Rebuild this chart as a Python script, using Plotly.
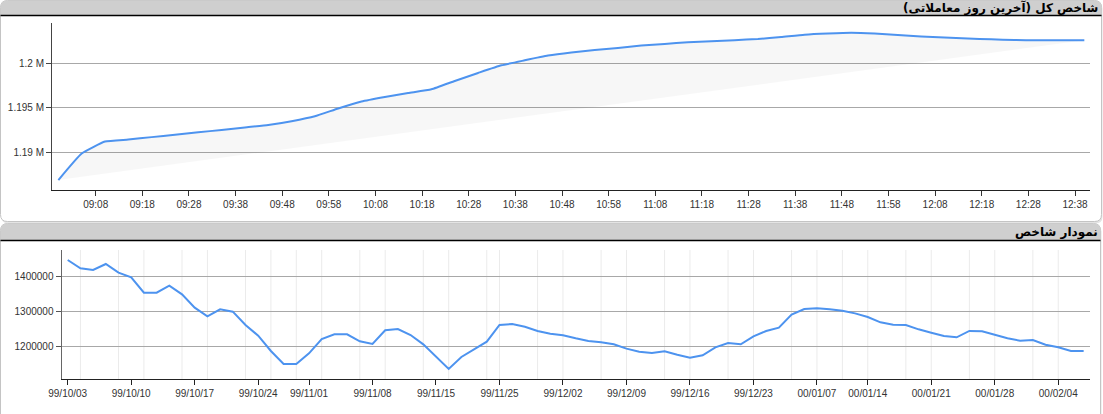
import plotly.graph_objects as go

# ---------------- data ----------------
intraday_times = [
    "09:00", "09:05", "09:10", "09:15", "09:20", "09:25", "09:30", "09:35", "09:40",
    "09:45", "09:50", "09:55", "10:00", "10:05", "10:10", "10:15", "10:20", "10:25",
    "10:30", "10:35", "10:40", "10:45", "10:50", "10:55", "11:00", "11:05", "11:10",
    "11:15", "11:20", "11:25", "11:30", "11:35", "11:40", "11:45", "11:50", "11:55",
    "12:00", "12:05", "12:10", "12:15", "12:20", "12:25", "12:30", "12:35", "12:40",
]
intraday_values = [
    1186850, 1189830, 1191170, 1191400, 1191670, 1191940, 1192210, 1192480, 1192760,
    1193030, 1193460, 1194010, 1194890, 1195670, 1196180, 1196630, 1197040, 1197980,
    1198880, 1199740, 1200300, 1200830, 1201180, 1201460, 1201690, 1201970, 1202130,
    1202340, 1202450, 1202560, 1202700, 1202920, 1203180, 1203310, 1203390, 1203310,
    1203150, 1202980, 1202870, 1202750, 1202660, 1202580, 1202550, 1202550, 1202550,
]
intraday_tick_labels = ["1.19 M", "1.195 M", "1.2 M"]
intraday_tick_values = [1190000, 1195000, 1200000]

daily_dates = [
    "99/10/03", "99/10/06", "99/10/07", "99/10/08", "99/10/09", "99/10/10",
    "99/10/13", "99/10/14", "99/10/15", "99/10/16", "99/10/17",
    "99/10/20", "99/10/21", "99/10/22", "99/10/23", "99/10/24",
    "99/10/27", "99/10/28", "99/10/30", "99/11/01",
    "99/11/04", "99/11/05", "99/11/06", "99/11/07", "99/11/08",
    "99/11/11", "99/11/12", "99/11/13", "99/11/14", "99/11/15",
    "99/11/18", "99/11/19", "99/11/20", "99/11/21",
    "99/11/25", "99/11/26", "99/11/27", "99/11/28", "99/11/29",
    "99/12/02", "99/12/03", "99/12/04", "99/12/05", "99/12/06",
    "99/12/09", "99/12/10", "99/12/11", "99/12/12", "99/12/13",
    "99/12/16", "99/12/17", "99/12/18", "99/12/19", "99/12/20",
    "99/12/23", "99/12/24", "99/12/25", "99/12/26", "99/12/27",
    "00/01/07", "00/01/08", "00/01/10", "00/01/11",
    "00/01/14", "00/01/15", "00/01/16", "00/01/17", "00/01/18",
    "00/01/21", "00/01/22", "00/01/23", "00/01/24", "00/01/25",
    "00/01/28", "00/01/29", "00/01/30", "00/01/31", "00/02/01",
    "00/02/04", "00/02/05", "00/02/06",
]
daily_values = [
    1445700, 1421900, 1417100, 1434300, 1409500, 1396200,
    1352400, 1352400, 1372400, 1347600, 1309500,
    1284800, 1304800, 1298100, 1260000, 1229500,
    1185700, 1148600, 1148600, 1179000,
    1220000, 1233300, 1233300, 1213300, 1205700,
    1244800, 1248600, 1231400, 1204800, 1169500,
    1134300, 1168600, 1191400, 1212400,
    1260000, 1262900, 1255200, 1242900, 1235200,
    1230500, 1221900, 1214300, 1210500, 1204800,
    1192400, 1183800, 1180000, 1184800, 1175200,
    1166700, 1173300, 1196200, 1208600, 1204800,
    1227600, 1242900, 1252400, 1289500, 1305700,
    1307600, 1304800, 1301000, 1293300,
    1282900, 1267600, 1261000, 1260000, 1247600,
    1238100, 1228600, 1224800, 1242900, 1241900,
    1231400, 1221900, 1215200, 1217100, 1203800,
    1196200, 1185700, 1185700,
]
daily_tick_dates = [
    "99/10/03", "99/10/10", "99/10/17", "99/10/24", "99/11/01", "99/11/08", "99/11/15",
    "99/11/25", "99/12/02", "99/12/09", "99/12/16", "99/12/23", "00/01/07", "00/01/14",
    "00/01/21", "00/01/28", "00/02/04",
]
daily_grid_dates = [
    "99/10/06", "99/10/09", "99/10/13", "99/10/16", "99/10/20", "99/10/23", "99/10/27",
    "99/10/30", "99/11/04", "99/11/07", "99/11/11", "99/11/14", "99/11/18", "99/11/21",
    "99/11/25", "99/11/28", "99/12/02", "99/12/05", "99/12/09", "99/12/12", "99/12/16",
    "99/12/19", "99/12/23", "99/12/26", "00/01/07", "00/01/10", "00/01/14", "00/01/17",
    "00/01/21", "00/01/24", "00/01/28", "00/01/31", "00/02/04",
]
daily_tick_values = [1200000, 1300000, 1400000]

title_top = "شاخص کل (آخرین روز معاملاتی)"
title_bottom = "نمودار شاخص"

# ---------------- styling helpers ----------------
W, H = 1103, 414
BLUE = "#4d93ef"
DAY = "2021-01-01 "


def px(x):
    return x / W


def py(y):
    return 1 - y / H


def rrect(x0, y0, x1, y1, r, top=True, bottom=True):
    rt = r if top else 0
    rb = r if bottom else 0
    p = []
    p.append(f"M{px(x0 + rt)},{py(y0)}")
    p.append(f"L{px(x1 - rt)},{py(y0)}")
    if rt:
        p.append(f"Q{px(x1)},{py(y0)} {px(x1)},{py(y0 + rt)}")
    p.append(f"L{px(x1)},{py(y1 - rb)}")
    if rb:
        p.append(f"Q{px(x1)},{py(y1)} {px(x1 - rb)},{py(y1)}")
    p.append(f"L{px(x0 + rb)},{py(y1)}")
    if rb:
        p.append(f"Q{px(x0)},{py(y1)} {px(x0)},{py(y1 - rb)}")
    p.append(f"L{px(x0)},{py(y0 + rt)}")
    if rt:
        p.append(f"Q{px(x0)},{py(y0)} {px(x0 + rt)},{py(y0)}")
    p.append("Z")
    return " ".join(p)


shapes = []
# panel 1
shapes.append(dict(type="path", path=rrect(1.5, 1.5, 1102.5, 223.5, 7), xref="paper", yref="paper",
                   fillcolor="#e4e4e4", line=dict(width=0), layer="below"))
shapes.append(dict(type="path", path=rrect(0.5, 0.5, 1101.5, 221.5, 7), xref="paper", yref="paper",
                   fillcolor="white", line=dict(color="#c4c4c4", width=1), layer="below"))
shapes.append(dict(type="path", path=rrect(0.5, 0.5, 1101.5, 15, 7, bottom=False), xref="paper", yref="paper",
                   fillcolor="#cfcfcf", line=dict(width=0), layer="below"))
shapes.append(dict(type="line", x0=px(0.5), x1=px(1101.5), y0=py(15.5), y1=py(15.5), xref="paper", yref="paper",
                   line=dict(color="black", width=1.5), layer="below"))
# panel 2
shapes.append(dict(type="path", path=rrect(1.5, 224.5, 1101.5, 440, 7), xref="paper", yref="paper",
                   fillcolor="#e4e4e4", line=dict(width=0), layer="below"))
shapes.append(dict(type="path", path=rrect(0.5, 223.5, 1100.5, 440, 7), xref="paper", yref="paper",
                   fillcolor="white", line=dict(color="#c4c4c4", width=1), layer="below"))
shapes.append(dict(type="path", path=rrect(0.5, 223.5, 1100.5, 240, 7, bottom=False), xref="paper", yref="paper",
                   fillcolor="#cfcfcf", line=dict(width=0), layer="below"))
shapes.append(dict(type="line", x0=px(0.5), x1=px(1100.5), y0=py(240.5), y1=py(240.5), xref="paper", yref="paper",
                   line=dict(color="black", width=1.5), layer="below"))
# light vertical gridlines in daily chart
for d in daily_grid_dates:
    shapes.append(dict(type="line", x0=d, x1=d, xref="x2", y0=0, y1=1, yref="y2 domain",
                       line=dict(color="#ebebeb", width=1), layer="below"))

fig = go.Figure()
fig.add_trace(go.Scatter(
    x=[DAY + t for t in intraday_times], y=intraday_values, mode="lines",
    line=dict(color=BLUE, width=2, shape="spline", smoothing=0.4),
    fill="toself", fillcolor="rgba(0,0,0,0.03)",
    xaxis="x", yaxis="y", hoverinfo="skip", showlegend=False,
))
fig.add_trace(go.Scatter(
    x=daily_dates, y=daily_values, mode="lines",
    line=dict(color=BLUE, width=2),
    xaxis="x2", yaxis="y2", hoverinfo="skip", showlegend=False,
))

tick_font = dict(family="Liberation Sans, Arial, sans-serif", size=10, color="#333")
title_font = dict(family="DejaVu Sans", size=12, color="black", weight="bold")

fig.update_layout(
    width=W, height=H,
    margin=dict(l=0, r=0, t=0, b=0),
    paper_bgcolor="white", plot_bgcolor="rgba(0,0,0,0)",
    hovermode=False, showlegend=False,
    shapes=shapes,
    xaxis=dict(
        domain=[px(52), px(1090)], anchor="y", type="date",
        range=[DAY + "08:58:38", DAY + "12:41:13"],
        tick0=DAY + "09:08", dtick=600000, tickformat="%H:%M",
        ticks="outside", ticklen=5, tickcolor="#333", tickfont=tick_font,
        showline=True, linecolor="#222", linewidth=1,
        showgrid=False, zeroline=False, automargin=False, fixedrange=True,
    ),
    yaxis=dict(
        domain=[py(190), py(23)], anchor="x",
        range=[1185730, 1204494],
        tickmode="array", tickvals=intraday_tick_values, ticktext=intraday_tick_labels,
        ticks="outside", ticklen=5, tickcolor="#444", tickfont=tick_font,
        showline=True, linecolor="#444", linewidth=1,
        showgrid=True, gridcolor="#a8a8a8", gridwidth=1,
        zeroline=False, automargin=False, fixedrange=True,
    ),
    xaxis2=dict(
        domain=[px(62), px(1090)], anchor="y2", type="category",
        categoryorder="array", categoryarray=daily_dates,
        range=[-0.45, 80.5],
        tickmode="array", tickvals=daily_tick_dates, ticktext=daily_tick_dates,
        ticks="outside", ticklen=5, tickcolor="#222", tickfont=tick_font,
        showline=True, linecolor="#222", linewidth=1,
        showgrid=False, zeroline=False, automargin=False, fixedrange=True,
    ),
    yaxis2=dict(
        domain=[py(379), py(250)], anchor="x2",
        range=[1105714, 1474286],
        tickmode="array", tickvals=daily_tick_values, tickformat="d",
        ticks="outside", ticklen=5, tickcolor="#555", tickfont=tick_font,
        showline=True, linecolor="#666", linewidth=1.5,
        showgrid=True, gridcolor="#a8a8a8", gridwidth=1,
        zeroline=False, automargin=False, fixedrange=True,
    ),
    annotations=[
        dict(text="\u200f" + title_top + "\u200f", xref="paper", yref="paper",
             x=px(1100), y=py(8), xanchor="right", yanchor="middle", showarrow=False,
             font=title_font),
        dict(text="\u200f" + title_bottom + "\u200f", xref="paper", yref="paper",
             x=px(1100), y=py(232), xanchor="right", yanchor="middle", showarrow=False,
             font=title_font),
    ],
)

fig.write_html(
    "out.html",
    config={"displayModeBar": False, "staticPlot": True},
    post_script="document.body.style.margin='0';document.body.style.overflow='hidden';",
)
